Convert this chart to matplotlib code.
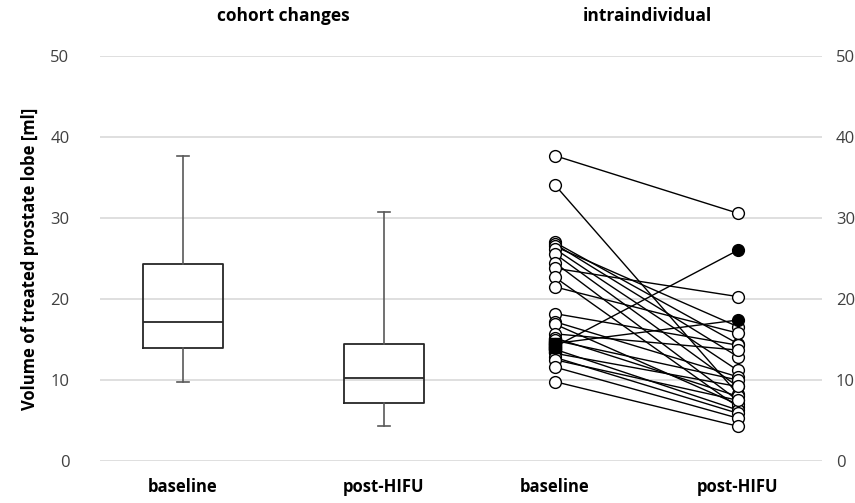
import numpy as np
import matplotlib.pyplot as plt

plt.rcParams['font.family'] = ['Open Sans', 'DejaVu Sans']

# box plot summaries (cohort changes)
box_labels = ['baseline', 'post-HIFU']
box_med = [17.1, 10.3]
box_q1 = [13.9, 7.2]
box_q3 = [24.3, 14.5]
box_lo = [9.7, 4.35]
box_hi = [37.7, 30.7]

# intraindividual pairs (baseline -> post-HIFU)
pre = [37.7, 34.1, 27.0, 26.8, 26.5, 26.2, 25.6, 24.5, 23.8, 22.7, 21.5,
       18.2, 17.2, 16.9, 15.7, 15.2, 14.9, 13.8, 13.3, 12.8, 12.5, 11.6, 9.8,
       14.1, 14.5]
post = [30.6, 8.3, 14.5, 12.9, 16.6, 11.2, 9.2, 7.5, 20.3, 6.7, 15.8,
        14.3, 10.4, 7.0, 13.7, 8.0, 10.0, 6.3, 9.2, 5.9, 7.5, 5.3, 4.3,
        26.0, 17.4]
filled = [False] * 23 + [True, True]

pos = [1.0, 2.0, 2.85, 3.76]

fig = plt.figure(figsize=(8.55, 5.03), dpi=100)
ax = fig.add_axes([100 / 855, 1 - 461 / 503, 722 / 855, 405 / 503])

stats = []
for i in range(2):
    stats.append(dict(med=box_med[i], q1=box_q1[i], q3=box_q3[i],
                      whislo=box_lo[i], whishi=box_hi[i], fliers=[]))
ax.bxp(stats, positions=pos[:2], widths=0.4, showfliers=False,
       boxprops=dict(color='#262626', linewidth=1.3),
       medianprops=dict(color='#262626', linewidth=1.3),
       whiskerprops=dict(color='#595959', linewidth=1.2),
       capprops=dict(color='#595959', linewidth=1.2),
       capwidths=0.06)

for a, b, f in zip(pre, post, filled):
    fc = 'black' if f else 'white'
    ax.plot([pos[2], pos[3]], [a, b], color='black', linewidth=1.0,
            marker='o', markersize=8.5, markerfacecolor=fc,
            markeredgecolor='black', markeredgewidth=1.0, zorder=3)
for a, f in zip(pre, filled):
    if f:
        ax.plot(pos[2], a, marker='s', markersize=8, color='black', zorder=4)

ax.set_ylim(0, 50)
ax.set_xlim(0.587, 4.18)
ax.set_yticks(range(0, 51, 10))
ax.yaxis.grid(True, color='#d9d9d9', linewidth=1.2)
ax.set_axisbelow(True)
for s in ax.spines.values():
    s.set_visible(False)
ax.tick_params(axis='y', length=0, labelsize=12, labelcolor='#404040', pad=22)
ax.set_xticks(pos)
ax.set_xticklabels(box_labels + ['baseline', 'post-HIFU'],
                   fontsize=12, fontweight='bold')
ax.tick_params(axis='x', length=0, pad=12)
ax.set_ylabel('Volume of treated prostate lobe [ml]', fontsize=12,
              fontweight='bold', labelpad=8)

ax2 = ax.twinx()
ax2.set_ylim(0, 50)
ax2.set_yticks(range(0, 51, 10))
for s in ax2.spines.values():
    s.set_visible(False)
ax2.tick_params(axis='y', length=0, labelsize=12, labelcolor='#404040', pad=10)

fig.text(283 / 855, 1 - 16 / 503, 'cohort changes', ha='center', va='center',
         fontsize=12.5, fontweight='bold')
fig.text(647 / 855, 1 - 16 / 503, 'intraindividual', ha='center', va='center',
         fontsize=12.5, fontweight='bold')

fig.savefig('out.png', dpi=100)
